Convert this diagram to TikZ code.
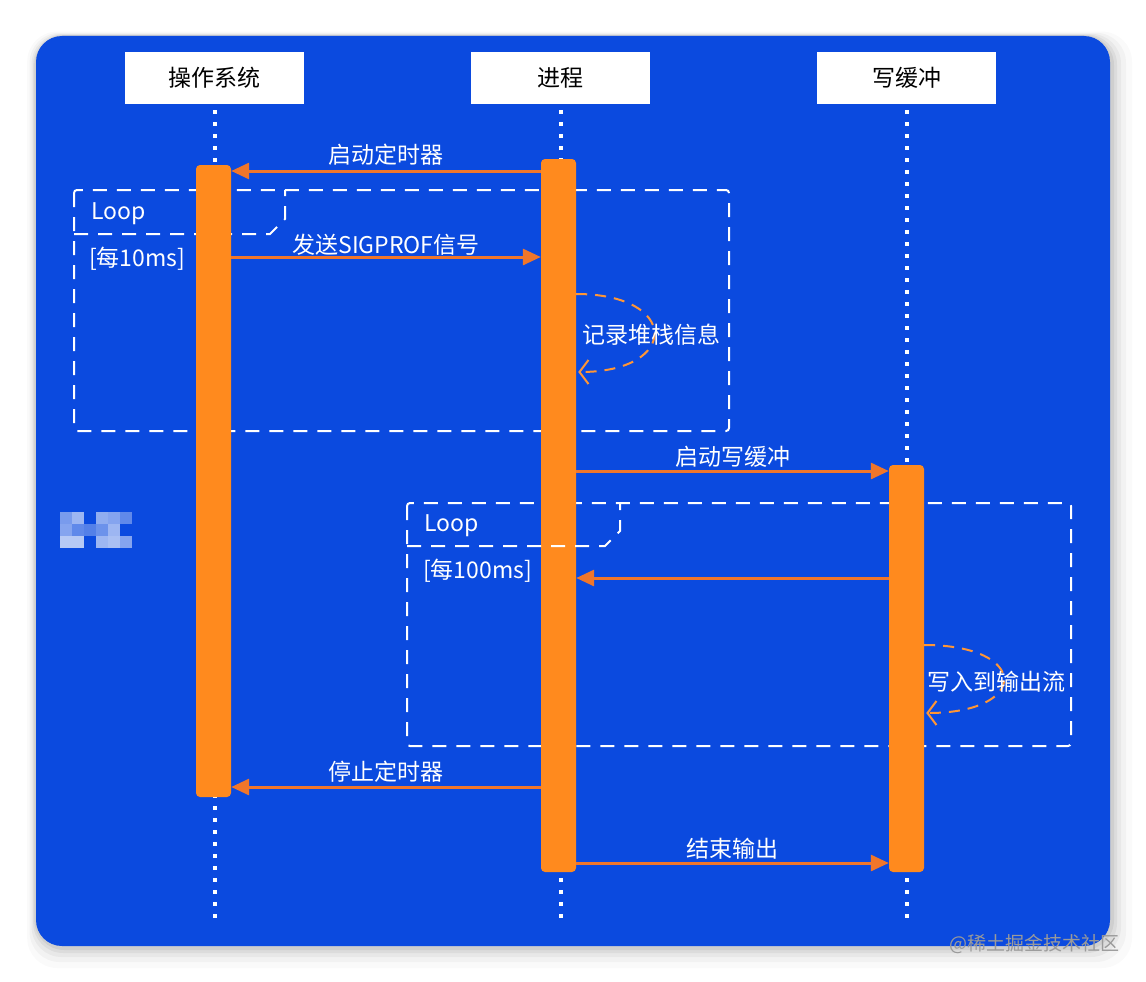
\documentclass[tikz,border=0pt]{standalone}
\usepackage{fontspec}
\setmainfont{Noto Sans CJK SC}
\usetikzlibrary{arrows.meta,calc}
\definecolor{bg}{HTML}{0B4ADF}
\definecolor{barc}{HTML}{FF8A1E}
\definecolor{lnc}{HTML}{F0762A}
\definecolor{wmc}{HTML}{9A9A9A}
\begin{document}
\begin{tikzpicture}[x=1pt,y=-1pt,
  txt/.style={font=\fontsize{23}{27}\selectfont, text=white, inner sep=0pt},
  head/.style={fill=white, minimum width=179pt, minimum height=52pt, inner sep=0pt,
    font=\fontsize{23}{27}\selectfont, text=black},
  actbar/.style={fill=barc, draw=none, rounded corners=4pt, minimum width=35pt, inner sep=0pt},
  life/.style={white, line width=4pt, dash pattern=on 4pt off 8pt},
  msg/.style={lnc, line width=3pt, -{Triangle[length=18pt,width=16pt]}},
  selfmsg/.style={barc!90!white, line width=2pt, dash pattern=on 11pt off 8pt,
    -{Straight Barb[length=9pt,width=24pt,line width=2pt]}},
  frame/.style={white, line width=2pt, dash pattern=on 14pt off 10pt}
]
\useasboundingbox (0,0) rectangle (1146,982);
\fill[white] (0,0) rectangle (1146,982);
% soft shadow
\foreach \s/\o in {22/0.02,16/0.03,11/0.04,7/0.05,4/0.06}
  \fill[black, opacity=\o, rounded corners=30pt] (36-\s*0.4,36-\s*0.2) rectangle (1110+\s,946+\s);
% background panel
\fill[bg, rounded corners=26pt] (36,36) rectangle (1110,946);
% blurred blob
\foreach \x/\y/\o in {60/512/0.45,72/512/0.6,60/524/0.5,72/524/0.35,60/536/0.7,72/536/0.7,84/524/0.3,96/512/0.55,108/512/0.5,120/512/0.35,96/524/0.4,108/524/0.6,96/536/0.6,108/536/0.65,120/536/0.5}
  \fill[white, opacity=\o] (\x,\y) rectangle ++(12,12);

% headers
\node[head] (h1) at (214.5,78) {操作系统};
\node[head] (h2) at (560.5,78) {进程};
\node[head] (h3) at (906.5,78) {写缓冲};
\coordinate (e1) at (214.5,918);
\coordinate (e2) at (560.5,918);
\coordinate (e3) at (906.5,918);
\draw[life] ([yshift=-6pt]h1.south) -- (e1);
\draw[life] ([yshift=-6pt]h2.south) -- (e2);
\draw[life] ([yshift=-6pt]h3.south) -- (e3);

% loop frames (behind bars)
\draw[frame, rounded corners=3pt] (74,190) rectangle (729,431);
\draw[frame] (74,234) -- (270,234) -- (285,219) -- (285,190);
\draw[frame, rounded corners=3pt] (407,503) rectangle (1071,746);

% activation bars
\node[actbar, minimum height=632pt] (os) at (213.5,481) {};
\node[actbar, minimum height=713pt] (pr) at (558.5,515.5) {};
\node[actbar, minimum height=407pt] (wb) at (906.5,668.5) {};

% loop frame labels
\node[txt, anchor=west] (l1) at (91,214) {Loop};
\node[txt, anchor=west] (g1) at (89,259) {[每10ms]};
\draw[frame] (407,546) -- (605,546) -- (620,531) -- (620,503);
\node[txt, anchor=west] (l2) at (424,526) {Loop};
\node[txt, anchor=west] (g2) at (423,571) {[每100ms]};

% messages
\draw[msg] (pr.west |- 0,171) -- (os.east |- 0,171)
  node[txt, midway, above=4pt] (m1) {启动定时器};
\draw[msg] (os.east |- 0,257) -- (pr.west |- 0,257)
  node[txt, midway, above=0pt] (m2) {发送SIGPROF信号};
\draw[msg] (pr.east |- 0,471) -- (wb.west |- 0,471)
  node[txt, midway, above=2pt] (m3) {启动写缓冲};
\draw[msg] (wb.west |- 0,578) -- (pr.east |- 0,578);
\draw[msg] (pr.west |- 0,787) -- (os.east |- 0,787)
  node[txt, midway, above=3pt] (m5) {停止定时器};
\draw[msg] (pr.east |- 0,863) -- (wb.west |- 0,863)
  node[txt, midway, above=2pt] (m6) {结束输出};

% self messages
\draw[selfmsg] (pr.east |- 0,294) .. controls (680,294) and (680,372) .. ([xshift=2pt]pr.east |- 0,372);
\node[txt] (s1) at (651,335) {记录堆栈信息};
\draw[selfmsg] (wb.east |- 0,645) .. controls (1030,645) and (1030,713) .. ([xshift=2pt]wb.east |- 0,713);
\node[txt] (s2) at (996,682) {写入到输出流};

% site mark
\node[text=wmc, font=\fontsize{19}{22}\selectfont, inner sep=0pt, anchor=east] (site) at (1120,944) {@稀土掘金技术社区};
\end{tikzpicture}
\end{document}
